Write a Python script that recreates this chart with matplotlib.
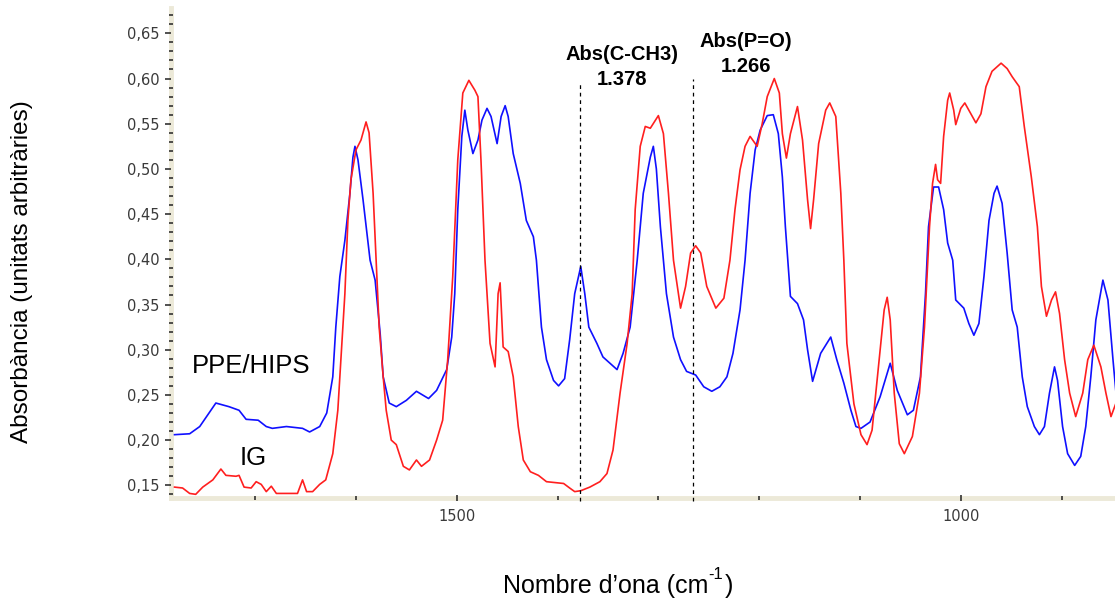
import matplotlib
matplotlib.use('Agg')
import matplotlib.pyplot as plt
from matplotlib.ticker import MultipleLocator, FuncFormatter

# PPE/HIPS spectrum (blue), wavenumber in cm-1
wn_blue = [1780, 1765, 1755, 1739, 1726, 1716, 1709, 1697, 1689, 1683, 1669, 1653, 1646, 1636,
           1629, 1623, 1620, 1616, 1611, 1606, 1603, 1601, 1598, 1593, 1586, 1581, 1576, 1573,
           1567, 1560, 1550, 1540, 1528, 1520, 1510, 1505, 1502, 1499, 1495, 1492, 1489, 1484,
           1479, 1475, 1470, 1466, 1460, 1456, 1452, 1449, 1444, 1437, 1431, 1424, 1421, 1416,
           1411, 1404, 1399, 1393, 1388, 1383, 1377, 1373, 1369, 1361, 1355, 1348, 1341, 1335,
           1328, 1321, 1315, 1308, 1305, 1302, 1298, 1292, 1285, 1278, 1272, 1263, 1255, 1247,
           1239, 1232, 1226, 1219, 1214, 1209, 1204, 1199, 1192, 1186, 1181, 1177, 1174, 1169,
           1162, 1156, 1152, 1147, 1139, 1129, 1123, 1116, 1109, 1104, 1099, 1090, 1080, 1070,
           1063, 1053, 1047, 1040, 1035, 1032, 1027, 1022, 1017, 1013, 1008, 1005, 997, 992,
           987, 982, 977, 972, 967, 964, 959, 954, 949, 944, 939, 934, 927, 922, 917, 912,
           907, 904, 899, 894, 887, 881, 876, 871, 866, 859, 854, 849, 846]
abs_blue = [0.206, 0.207, 0.215, 0.241, 0.237, 0.233, 0.223, 0.222, 0.215, 0.213, 0.215, 0.213, 0.209, 0.215,
            0.230, 0.270, 0.325, 0.381, 0.421, 0.473, 0.513, 0.525, 0.510, 0.466, 0.399, 0.377, 0.318, 0.270,
            0.241, 0.237, 0.244, 0.254, 0.246, 0.255, 0.278, 0.314, 0.362, 0.455, 0.536, 0.565, 0.543, 0.517,
            0.532, 0.554, 0.567, 0.558, 0.528, 0.558, 0.570, 0.558, 0.517, 0.484, 0.443, 0.425, 0.399, 0.325,
            0.289, 0.266, 0.260, 0.268, 0.311, 0.362, 0.392, 0.362, 0.325, 0.307, 0.292, 0.285, 0.278, 0.296,
            0.325, 0.399, 0.473, 0.513, 0.525, 0.500, 0.436, 0.362, 0.314, 0.289, 0.276, 0.272, 0.259, 0.254,
            0.259, 0.270, 0.296, 0.344, 0.399, 0.473, 0.521, 0.543, 0.559, 0.560, 0.539, 0.491, 0.436, 0.359,
            0.351, 0.333, 0.300, 0.265, 0.296, 0.314, 0.289, 0.263, 0.233, 0.215, 0.213, 0.220, 0.248, 0.285,
            0.255, 0.228, 0.233, 0.270, 0.362, 0.436, 0.480, 0.480, 0.455, 0.418, 0.399, 0.355, 0.346, 0.329,
            0.316, 0.329, 0.381, 0.443, 0.473, 0.481, 0.462, 0.407, 0.344, 0.325, 0.270, 0.237, 0.215, 0.206, 0.215, 0.252,
            0.281, 0.266, 0.215, 0.185, 0.172, 0.182, 0.215, 0.270, 0.333, 0.377, 0.355, 0.289, 0.252]

# IG spectrum (red)
wn_red = [1780, 1772, 1765, 1759, 1752, 1742, 1734, 1729, 1719, 1716, 1711, 1704, 1699, 1694,
          1689, 1684, 1679, 1669, 1658, 1653, 1649, 1643, 1636, 1630, 1623, 1618, 1615, 1611,
          1608, 1605, 1600, 1595, 1590, 1587, 1583, 1580, 1577, 1573, 1570, 1565, 1560, 1553,
          1547, 1540, 1535, 1527, 1520, 1514, 1509, 1504, 1499, 1494, 1488, 1482, 1479, 1476,
          1472, 1467, 1462, 1459, 1457, 1454, 1449, 1444, 1439, 1434, 1427, 1419, 1411, 1394,
          1388, 1383, 1377, 1368, 1358, 1351, 1345, 1338, 1331, 1326, 1323, 1318, 1313, 1308,
          1300, 1295, 1290, 1285, 1278, 1273, 1268, 1263, 1258, 1252, 1243, 1235, 1229, 1224,
          1219, 1214, 1209, 1202, 1197, 1192, 1185, 1180, 1177, 1173, 1169, 1162, 1157, 1152,
          1149, 1146, 1141, 1134, 1130, 1124, 1119, 1116, 1113, 1106, 1099, 1093, 1088, 1081,
          1076, 1073, 1070, 1066, 1061, 1056, 1048, 1041, 1036, 1031, 1028, 1025, 1023, 1020,
          1017, 1013, 1011, 1007, 1005, 1000, 996, 990, 985, 980, 975, 969, 960, 954,
          949, 942, 937, 930, 924, 920, 915, 910, 906, 902, 897, 892, 886, 879,
          874, 868, 861, 856, 851, 846]
abs_red = [0.148, 0.147, 0.141, 0.140, 0.148, 0.156, 0.168, 0.161, 0.160, 0.161, 0.148, 0.147, 0.154, 0.151,
           0.143, 0.149, 0.141, 0.141, 0.141, 0.156, 0.143, 0.143, 0.151, 0.156, 0.185, 0.233, 0.289, 0.362,
           0.443, 0.488, 0.521, 0.532, 0.552, 0.540, 0.473, 0.399, 0.325, 0.270, 0.233, 0.200, 0.195, 0.171,
           0.167, 0.178, 0.171, 0.178, 0.200, 0.222, 0.289, 0.381, 0.510, 0.584, 0.598, 0.587, 0.580, 0.510,
           0.399, 0.307, 0.281, 0.362, 0.374, 0.303, 0.298, 0.270, 0.215, 0.178, 0.165, 0.161, 0.154, 0.152,
           0.147, 0.143, 0.144, 0.148, 0.154, 0.163, 0.189, 0.252, 0.307, 0.362, 0.455, 0.525, 0.547, 0.545,
           0.559, 0.539, 0.473, 0.399, 0.346, 0.370, 0.407, 0.415, 0.407, 0.370, 0.346, 0.357, 0.399, 0.455,
           0.499, 0.525, 0.536, 0.525, 0.550, 0.580, 0.600, 0.584, 0.539, 0.512, 0.539, 0.569, 0.532, 0.466,
           0.434, 0.466, 0.528, 0.565, 0.573, 0.558, 0.473, 0.399, 0.307, 0.240, 0.206, 0.195, 0.211, 0.289,
           0.344, 0.358, 0.333, 0.252, 0.196, 0.185, 0.204, 0.252, 0.325, 0.436, 0.484, 0.505, 0.488, 0.484,
           0.536, 0.576, 0.584, 0.565, 0.549, 0.567, 0.573, 0.561, 0.551, 0.561, 0.591, 0.608, 0.617, 0.611,
           0.602, 0.591, 0.547, 0.491, 0.436, 0.370, 0.337, 0.355, 0.364, 0.340, 0.289, 0.252, 0.226, 0.252,
           0.289, 0.305, 0.281, 0.252, 0.226, 0.241]

# marked bands
band_wn = [1378, 1266]
band_top = [0.595, 0.599]
band_name = ['Abs(C-CH3)', 'Abs(P=O)']
band_val = ['1.378', '1.266']

fig = plt.figure(figsize=(11.15, 6.05), dpi=100)
ax = fig.add_axes([171/1115, 1 - 497.5/605, 944/1115, 489.2/605])

ax.plot(wn_blue, abs_blue, color='#1010ff', lw=1.2)
ax.plot(wn_red, abs_red, color='#ff1f1f', lw=1.2)

ax.set_xlim(1783.5, 847)
ax.set_ylim(0.1365, 0.6777)

for s in ['top', 'right']:
    ax.spines[s].set_visible(False)
for s in ['left', 'bottom']:
    ax.spines[s].set_color('#ece9d8')
    ax.spines[s].set_linewidth(3.5)
    ax.spines[s].set_zorder(0.5)   # keep the small tick dashes on top of the bar

ax.yaxis.set_major_locator(MultipleLocator(0.05))
ax.yaxis.set_minor_locator(MultipleLocator(0.01))
ax.yaxis.set_major_formatter(FuncFormatter(lambda v, p: ('%.2f' % v).replace('.', ',')))
ax.xaxis.set_major_locator(MultipleLocator(500))
ax.xaxis.set_minor_locator(MultipleLocator(100))

ax.tick_params(axis='y', which='major', direction='out', length=4.3, width=1.1, color='#222222',
               labelsize=10.5, labelcolor='#3a3a3a', pad=4)
ax.tick_params(axis='y', which='minor', direction='inout', length=2.5, width=1.1, color='#222222')
ax.tick_params(axis='x', which='major', direction='inout', length=5, width=1.1, color='#222222',
               labelsize=10.5, labelcolor='#3a3a3a', pad=6)
ax.tick_params(axis='x', which='minor', direction='inout', length=2.5, width=1.1, color='#222222')

# dashed lines + labels
ax.vlines(band_wn, 0.133, band_top, colors='k', linestyles=(0, (3, 3)), lw=0.9, clip_on=False)
ax.text(1336, 0.620, band_name[0], ha='center', va='baseline', fontsize=14.5, fontweight='bold', family='Liberation Sans')
ax.text(1336, 0.593, band_val[0], ha='center', va='baseline', fontsize=14.5, fontweight='bold', family='Liberation Sans')
ax.text(1213, 0.635, band_name[1], ha='center', va='baseline', fontsize=14.5, fontweight='bold', family='Liberation Sans')
ax.text(1213, 0.6075, band_val[1], ha='center', va='baseline', fontsize=14.5, fontweight='bold', family='Liberation Sans')

ax.text(1763, 0.274, 'PPE/HIPS', ha='left', va='baseline', fontsize=18.5, family='Liberation Sans')
ax.text(1702, 0.173, 'IG', ha='center', va='baseline', fontsize=18.5, family='Liberation Sans')

# x label with a short hyphen in the exponent, as in the original
xl = fig.text(0.543, 0.0193, 'Nombre d\u2019ona (cm', ha='center', va='baseline', fontsize=18, family='Liberation Sans')
fig.canvas.draw()
bb = xl.get_window_extent()
fig.text(bb.x1 / 1115 + 0.0005, 0.0193 + 14 / 605, '-1', ha='left', va='baseline', fontsize=12, family='Liberation Sans')
fig.text(bb.x1 / 1115 + 0.0145, 0.0193, ')', ha='left', va='baseline', fontsize=18, family='Liberation Sans')

fig.text(0.0197, 0.5504, 'Absorbància (unitats arbitràries)', rotation=90, ha='center', va='center',
         fontsize=17.5, family='Liberation Sans')

fig.savefig('out.png', dpi=100)
